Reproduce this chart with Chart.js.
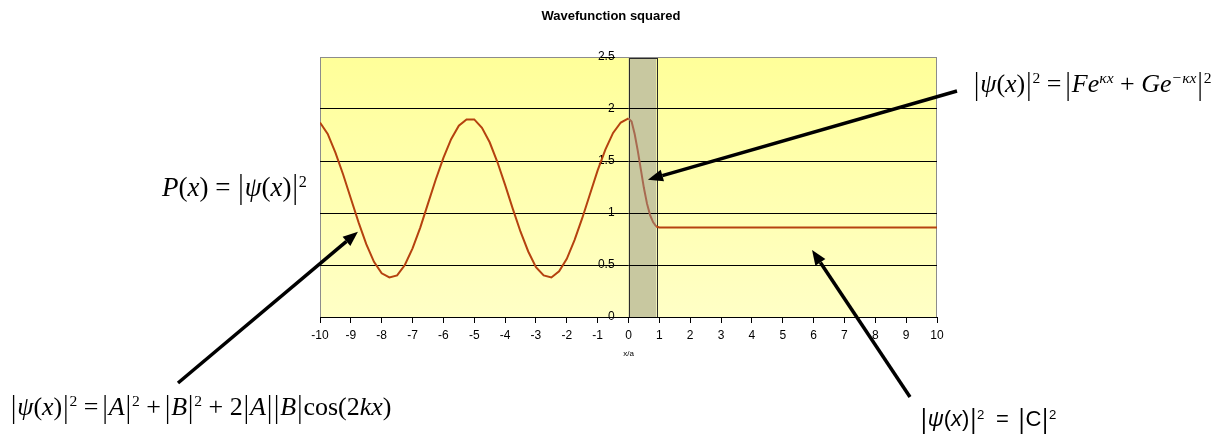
<!DOCTYPE html>
<html>
<head>
<meta charset="utf-8">
<script src="https://cdn.jsdelivr.net/npm/chart.js@4.4.1/dist/chart.umd.min.js"></script>
<style>
  html, body { margin:0; padding:0; background:#fff; }
  #wrap { position:relative; width:1229px; height:434px; overflow:hidden; }
  canvas { position:absolute; left:0; top:0; }
  .m { position:absolute; white-space:nowrap; line-height:1; color:#000; font-family:"Liberation Serif","Times New Roman",serif; font-size:27px; }
  .s { font-family:"Liberation Sans",Arial,sans-serif; font-size:22px; }
  .i { font-style:italic; }
  .b { display:inline-block; transform:scaleY(1.25); margin:0 1px; }
  .sup { position:relative; top:-0.55em; font-size:0.6em; }
  .sp { display:inline-block; width:0.25em; }
  .ts { display:inline-block; width:0.12em; }
</style>
</head>
<body>
<div id="wrap">
  <canvas id="c" width="1229" height="434"></canvas>
  <div class="m" style="left:973px;top:71px;font-size:26px;"><span class="b">|</span><span class="i">ψ</span>(<span class="i">x</span>)<span class="b">|</span><span class="sup">2</span><span class="sp"></span>=<span class="ts"></span><span class="b">|</span><span class="i">Fe</span><span class="sup i">κx</span><span class="sp"></span>+<span class="sp"></span><span class="i">Ge</span><span class="sup i">−κx</span><span class="b">|</span><span class="sup">2</span></div>
  <div class="m" style="left:162px;top:174px;"><span class="i">P</span>(<span class="i">x</span>)<span class="sp"></span>=<span class="sp"></span><span class="b">|</span><span class="i">ψ</span>(<span class="i">x</span>)<span class="b">|</span><span class="sup">2</span></div>
  <div class="m" style="left:10px;top:394px;font-size:26px;"><span class="b">|</span><span class="i">ψ</span>(<span class="i">x</span>)<span class="b">|</span><span class="sup">2</span><span class="sp"></span>=<span class="ts"></span><span class="b">|</span><span class="i">A</span><span class="b">|</span><span class="sup">2</span><span class="sp"></span>+<span class="ts"></span><span class="b">|</span><span class="i">B</span><span class="b">|</span><span class="sup">2</span><span class="sp"></span>+<span class="sp"></span>2<span class="b">|</span><span class="i">A</span><span class="b">|</span><span class="b">|</span><span class="i">B</span><span class="b">|</span>cos(2<span class="i">kx</span>)</div>
  <div class="m s" style="left:920px;top:408px;"><span class="b">|</span><span class="i">ψ</span>(<span class="i">x</span>)<span class="b">|</span><span class="sup">2</span><span class="sp"></span> = <span class="ts"></span><span class="b">|</span>C<span class="b">|</span><span class="sup">2</span></div>
</div>
<script>
// ---- data ----
const xs = [-10, -9.75, -9.5, -9.25, -9, -8.75, -8.5, -8.25, -8, -7.75,
            -7.5, -7.25, -7, -6.75, -6.5, -6.25, -6, -5.75, -5.5, -5.25,
            -5, -4.75, -4.5, -4.25, -4, -3.75, -3.5, -3.25, -3, -2.75,
            -2.5, -2.25, -2, -1.75, -1.5, -1.25, -1, -0.75, -0.5, -0.25,
            0, 0.1, 0.2, 0.3, 0.4, 0.5, 0.6, 0.7, 0.8, 0.9,
            1, 1.5, 2, 2.5, 3, 3.5, 4, 4.5, 5, 5.5,
            6, 6.5, 7, 7.5, 8, 8.5, 9, 9.5, 10];
const probability = [1.87, 1.76, 1.58, 1.37, 1.14, 0.91, 0.70, 0.53, 0.42, 0.38,
            0.40, 0.50, 0.66, 0.86, 1.09, 1.32, 1.53, 1.71, 1.84, 1.90,
            1.90, 1.82, 1.68, 1.49, 1.27, 1.04, 0.82, 0.63, 0.48, 0.40,
            0.38, 0.44, 0.56, 0.74, 0.95, 1.18, 1.41, 1.61, 1.77, 1.87,
            1.91, 1.88, 1.76, 1.60, 1.42, 1.24, 1.09, 0.98, 0.91, 0.87,
            0.86, 0.86, 0.86, 0.86, 0.86, 0.86, 0.86, 0.86, 0.86, 0.86,
            0.86, 0.86, 0.86, 0.86, 0.86, 0.86, 0.86, 0.86, 0.86];
const barrier = [0, 0.9];          // x-range of the shaded barrier region
const xRange = [-10, 10];
const yRange = [0, 2.5];
const xStep = 1;
const yStep = 0.5;
const yLabelAt = -0.45;            // x-value where the y tick labels end (just left of x = 0)
const chartTitle = 'Wavefunction squared';
const xTitle = 'x/a';

// ---- styling ----
const lineColor = '#b5420f';
const barrierLineColor = '#a86a50';
const sansFont = '"Liberation Sans", Arial, sans-serif';

const points = xs.map((x, i) => ({ x: x, y: probability[i] }));

const backgroundPlugin = {
  id: 'bgPlugin',
  beforeDraw(chart) {
    const { ctx, chartArea: a, scales } = chart;
    ctx.save();
    const g = ctx.createLinearGradient(0, a.top, 0, a.bottom);
    g.addColorStop(0, '#ffff99');
    g.addColorStop(1, '#ffffc6');
    ctx.fillStyle = g;
    ctx.fillRect(a.left, a.top, a.right - a.left, a.bottom - a.top);
    ctx.strokeStyle = '#8c8c8c';
    ctx.lineWidth = 1;
    ctx.strokeRect(a.left + 0.5, a.top + 0.5, a.right - a.left - 1, a.bottom - a.top);
    const x0 = scales.x.getPixelForValue(barrier[0]);
    const x1 = scales.x.getPixelForValue(barrier[1]);
    const yTop = scales.y.getPixelForValue(yRange[1]) + 1;
    const yBot = scales.y.getPixelForValue(yRange[0]);
    ctx.fillStyle = '#c8c8a0';
    ctx.fillRect(x0, yTop, x1 - x0, yBot - yTop);
    ctx.strokeStyle = '#2a2a2a';
    ctx.strokeRect(Math.round(x0) + 0.5, Math.round(yTop) + 0.5, Math.round(x1 - x0), Math.round(yBot - yTop));
    ctx.restore();
  }
};

// annotation arrows: head given in data units (points at the curve), tail in canvas pixels
const arrows = [
  { tail: [178, 383], head: [-8.77, 0.82] },
  { tail: [957, 91], head: [0.63, 1.32] },
  { tail: [910, 397], head: [5.95, 0.645] }
];
const arrowPlugin = {
  id: 'arrowPlugin',
  afterDraw(chart) {
    const { ctx, scales } = chart;
    ctx.save();
    ctx.strokeStyle = '#000';
    ctx.fillStyle = '#000';
    arrows.forEach(a => {
      const hx = scales.x.getPixelForValue(a.head[0]);
      const hy = scales.y.getPixelForValue(a.head[1]);
      const tx = a.tail[0], ty = a.tail[1];
      const ang = Math.atan2(hy - ty, hx - tx);
      const L = 15, W = 6;
      const bx = hx - L * Math.cos(ang), by = hy - L * Math.sin(ang);
      ctx.lineWidth = 3.5;
      ctx.beginPath();
      ctx.moveTo(tx, ty);
      ctx.lineTo(bx, by);
      ctx.stroke();
      ctx.beginPath();
      ctx.moveTo(hx, hy);
      ctx.lineTo(bx - W * Math.sin(ang), by + W * Math.cos(ang));
      ctx.lineTo(bx + W * Math.sin(ang), by - W * Math.cos(ang));
      ctx.closePath();
      ctx.fill();
    });
    ctx.restore();
  }
};

new Chart(document.getElementById('c'), {
  type: 'line',
  data: {
    datasets: [{
      data: points,
      xAxisID: 'x',
      yAxisID: 'y',
      borderColor: lineColor,
      borderWidth: 2,
      pointRadius: 0,
      tension: 0,
      fill: false,
      segment: {
        borderColor: c => (c.p0.parsed.x >= barrier[0] && c.p0.parsed.x < barrier[1]) ? barrierLineColor : undefined
      }
    }]
  },
  options: {
    responsive: false,
    animation: false,
    events: [],
    layout: { padding: { left: 0, right: 7, top: 0, bottom: 117 } },
    plugins: {
      legend: { display: false },
      tooltip: { enabled: false },
      title: {
        display: true,
        text: chartTitle,
        color: '#000',
        font: { family: sansFont, size: 13, weight: 'bold' },
        padding: { top: 9, bottom: 32.4 }
      }
    },
    scales: {
      padL: {
        type: 'linear', position: 'left', display: true, min: 0, max: 1,
        afterFit: s => { s.width = 320; },
        ticks: { display: false }, grid: { display: false }, border: { display: false }
      },
      padR: {
        type: 'linear', position: 'right', display: true, min: 0, max: 1,
        afterFit: s => { s.width = 285; },
        ticks: { display: false }, grid: { display: false }, border: { display: false }
      },
      x: {
        type: 'linear',
        position: { y: 0 },
        min: xRange[0], max: xRange[1],
        ticks: {
          stepSize: xStep, autoSkip: false, maxRotation: 0, color: '#000',
          padding: 6, font: { family: sansFont, size: 12 },
          callback: v => String(v)
        },
        grid: { drawOnChartArea: false, drawTicks: true, tickLength: 5, tickColor: '#000' },
        border: { color: '#000', width: 1 },
        title: {
          display: true, text: xTitle, color: '#000',
          font: { family: sansFont, size: 8 }, padding: { top: 1, bottom: 0 }
        }
      },
      y: {
        type: 'linear',
        position: { x: yLabelAt },
        min: yRange[0], max: yRange[1],
        ticks: {
          stepSize: yStep, color: '#000', padding: 0,
          font: { family: sansFont, size: 12 },
          callback: v => String(v)
        },
        grid: {
          color: c => (c.tick && c.tick.value === yRange[1]) ? '#8c8c8c' : '#000',
          tickColor: '#000', tickLength: 14, lineWidth: 1
        },
        border: { display: false }
      }
    }
  },
  plugins: [backgroundPlugin, arrowPlugin]
});
</script>
</body>
</html>
